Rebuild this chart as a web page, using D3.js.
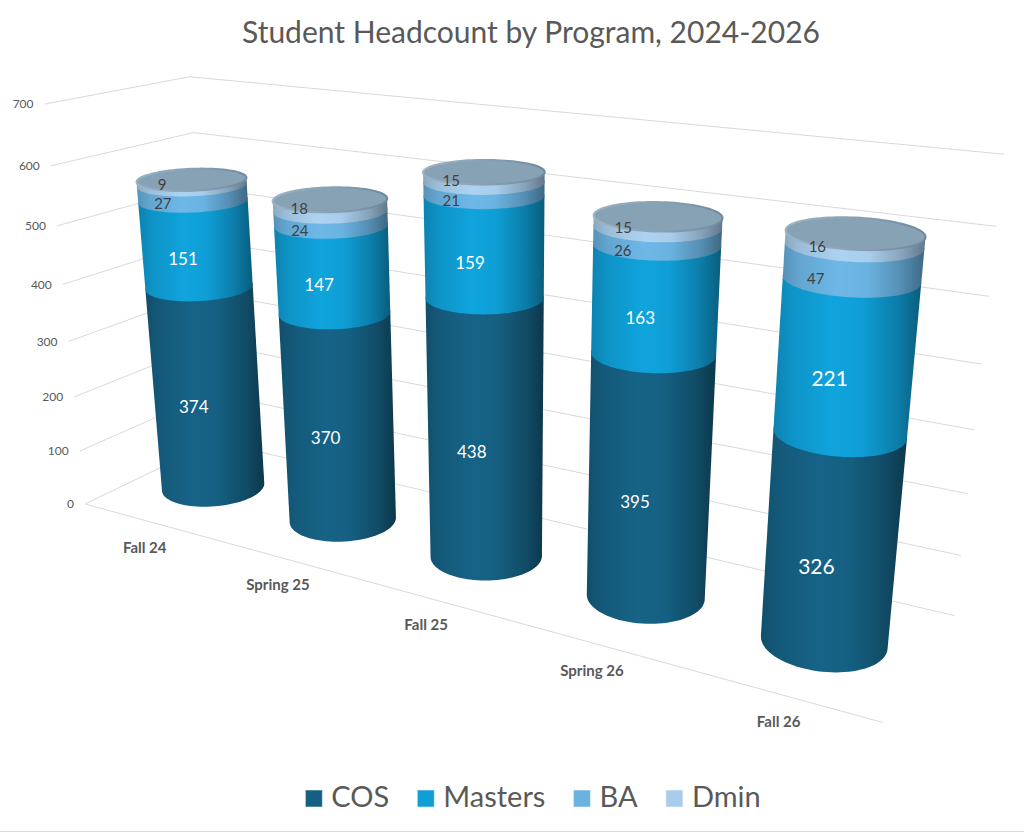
<!DOCTYPE html>
<html>
<head>
<meta charset="utf-8">
<script src="https://cdn.jsdelivr.net/npm/d3@7"></script>
<style>
  body { margin: 0; background: #fff; }
  text { font-family: Lato, "Noto Sans", sans-serif; }
</style>
</head>
<body>
<svg id="chart" width="1024" height="834"></svg>
<script>
// data
const categories = ["Fall 24", "Spring 25", "Fall 25", "Spring 26", "Fall 26"];
const seriesNames = ["COS", "Masters", "BA", "Dmin"];
const cos = [374, 370, 438, 395, 326];
const masters = [151, 147, 159, 163, 221];
const ba = [27, 24, 21, 26, 47];
const dmin = [9, 18, 15, 15, 16];
const yTicks = [0, 100, 200, 300, 400, 500, 600, 700];

const colors = ["#156082", "#0F9ED5", "#6AB2E0", "#A8CCEA"];
const capColor = "#88a2b5";
const labelSize = [17, 17, 17, 17, 21];

// camera, fitted once against the reference (yaw, pitch, distance, focal, target shift)
const cam = { yaw: -0.5248, pitch: 0.3471, dist: 8.481, focal: 1564.1, tx: 0.169, ty: -0.2474 };
const depth = 1.2138, boxH = 2.4363, radius = 0.3163;

const yScale = d3.scaleLinear().domain([0, 700]).range([0, boxH]);
const xScale = d3.scaleBand().domain(categories).range([0, 5]);

function makeProj() {
  const t = cam.yaw, p = cam.pitch;
  const fwd = [Math.sin(t) * Math.cos(p), -Math.sin(p), Math.cos(t) * Math.cos(p)];
  const rgt = [Math.cos(t), 0, -Math.sin(t)];
  const up = [Math.sin(t) * Math.sin(p), Math.cos(p), Math.cos(t) * Math.sin(p)];
  const T = [2.5 + cam.tx, boxH / 2 + cam.ty, depth / 2];
  const C = T.map((v, i) => v - cam.dist * fwd[i]);
  const dot = (a, b) => a[0] * b[0] + a[1] * b[1] + a[2] * b[2];
  return function (X, v, Z) {
    const d = [X - C[0], yScale(v) - C[1], Z - C[2]];
    const zc = dot(d, fwd);
    return [512 + cam.focal * dot(d, rgt) / zc, 400 - cam.focal * dot(d, up) / zc];
  };
}
const pr = makeProj();

function ring(X, v, n) {
  return d3.range(n).map(k => {
    const a = 2 * Math.PI * k / n;
    return pr(X + radius * Math.cos(a), v, depth / 2 + radius * Math.sin(a));
  });
}

const svg = d3.select("#chart");
const defs = svg.append("defs");
const line = d3.line();

// bottom border of chart area
svg.append("line").attr("x1", 0).attr("x2", 1024).attr("y1", 831.5).attr("y2", 831.5)
  .attr("stroke", "#d9d9d9");

// title
svg.append("text").attr("x", 531).attr("y", 43).attr("text-anchor", "middle")
  .attr("font-size", 30).attr("fill", "#595959")
  .text("Student Headcount by Program, 2024-2026");

// gridlines on side and back walls
svg.append("g").selectAll("path").data(yTicks).join("path")
  .attr("d", v => line([pr(0, v, 0), pr(0, v, depth), pr(5, v, depth)]))
  .attr("fill", "none").attr("stroke", "#d9d9d9").attr("stroke-width", 1);
svg.append("path").attr("d", line([pr(0, 0, 0), pr(5, 0, 0)]))
  .attr("fill", "none").attr("stroke", "#d9d9d9");

svg.append("g").selectAll("text").data(yTicks).join("text")
  .attr("x", v => pr(0, v, 0)[0] - 11).attr("y", v => pr(0, v, 0)[1])
  .attr("dy", "0.35em").attr("text-anchor", "end")
  .attr("font-size", 12).attr("fill", "#595959").text(v => v);

svg.append("g").selectAll("text").data(categories).join("text")
  .attr("x", c => pr(xScale(c) + 0.5, 0, 0)[0] - 2)
  .attr("y", c => pr(xScale(c) + 0.5, 0, 0)[1] + 27)
  .attr("dy", "0.35em").attr("text-anchor", "middle")
  .attr("font-size", 15).attr("font-weight", "bold")
  .attr("fill", "#595959").text(c => c);

// cylinders
const series = [cos, masters, ba, dmin];
categories.forEach((cat, i) => {
  const cx = xScale(cat) + 0.5;
  const g = svg.append("g");
  const labels = [];
  let acc = 0;
  series.forEach((vals, s) => {
    const v0 = acc, v1 = acc + vals[i];
    acc = v1;
    const r0 = ring(cx, v0, 90), r1 = ring(cx, v1, 90);
    const hull = d3.polygonHull(r0.concat(r1));
    const ex = d3.extent(r0.concat(r1), d => d[0]);
    const id = "grad" + i + "_" + s;
    const base = d3.color(colors[s]);
    const gr = defs.append("linearGradient").attr("id", id)
      .attr("gradientUnits", "userSpaceOnUse")
      .attr("x1", ex[0]).attr("x2", ex[1]).attr("y1", 0).attr("y2", 0);
    [[0, base.darker(0.55)], [0.12, base.darker(0.2)], [0.4, base.brighter(0.1)],
     [0.6, base], [0.84, base.darker(0.65)], [1, base.darker(1.5)]]
      .forEach(([o, c]) => gr.append("stop").attr("offset", o).attr("stop-color", c));
    g.append("path").attr("d", "M" + hull.join("L") + "Z").attr("fill", "url(#" + id + ")");

    // label: at the front of the segment's middle, a little left of the axis
    const vm = (v0 + v1) / 2;
    const front = pr(cx, vm, depth / 2 - radius);
    const w = d3.extent(ring(cx, vm, 36), d => d[0]);
    const mid = (w[0] + w[1]) / 2;
    const big = s < 2;
    labels.push({
      x: mid - (w[1] - w[0]) * (big ? 0.12 : 0.27),
      y: front[1] + (big ? 3 : (s === 2 ? 1 : -7)),
      text: vals[i],
      size: big ? labelSize[i] : 15,
      fill: big ? "#ffffff" : "#404040"
    });
  });

  // top cap with a thin rim
  const top = ring(cx, acc, 90);
  const capId = "cap" + i;
  const ex = d3.extent(top, d => d[0]);
  const cg = defs.append("linearGradient").attr("id", capId)
    .attr("gradientUnits", "userSpaceOnUse")
    .attr("x1", ex[0]).attr("x2", ex[1]).attr("y1", 0).attr("y2", 0);
  [[0, "#9cb3c4"], [0.5, capColor], [1, "#6f889b"]]
    .forEach(([o, c]) => cg.append("stop").attr("offset", o).attr("stop-color", c));
  g.append("path").attr("d", "M" + top.join("L") + "Z")
    .attr("fill", capColor).attr("stroke", "url(#" + capId + ")").attr("stroke-width", 2);

  g.selectAll("text.lbl").data(labels).join("text").attr("class", "lbl")
    .attr("x", d => d.x).attr("y", d => d.y).attr("dy", "0.35em")
    .attr("text-anchor", "middle").attr("font-size", d => d.size)
    .attr("fill", d => d.fill).text(d => d.text);
});

// legend
const legend = svg.append("g");
const items = legend.selectAll("g").data(seriesNames).join("g");
items.append("rect").attr("width", 17).attr("height", 17).attr("y", -17)
  .attr("fill", (d, i) => colors[i]).attr("stroke", "#ffffff").attr("stroke-opacity", 0.5);
items.append("text").attr("x", 26).attr("font-size", 29).attr("fill", "#595959").text(d => d);
let lx = 0;
items.each(function () {
  d3.select(this).attr("transform", "translate(" + lx + ",0)");
  lx += this.getBBox().width + 28;
});
legend.attr("transform", "translate(" + (533 - (lx - 28) / 2) + ",807)");
</script>
</body>
</html>
